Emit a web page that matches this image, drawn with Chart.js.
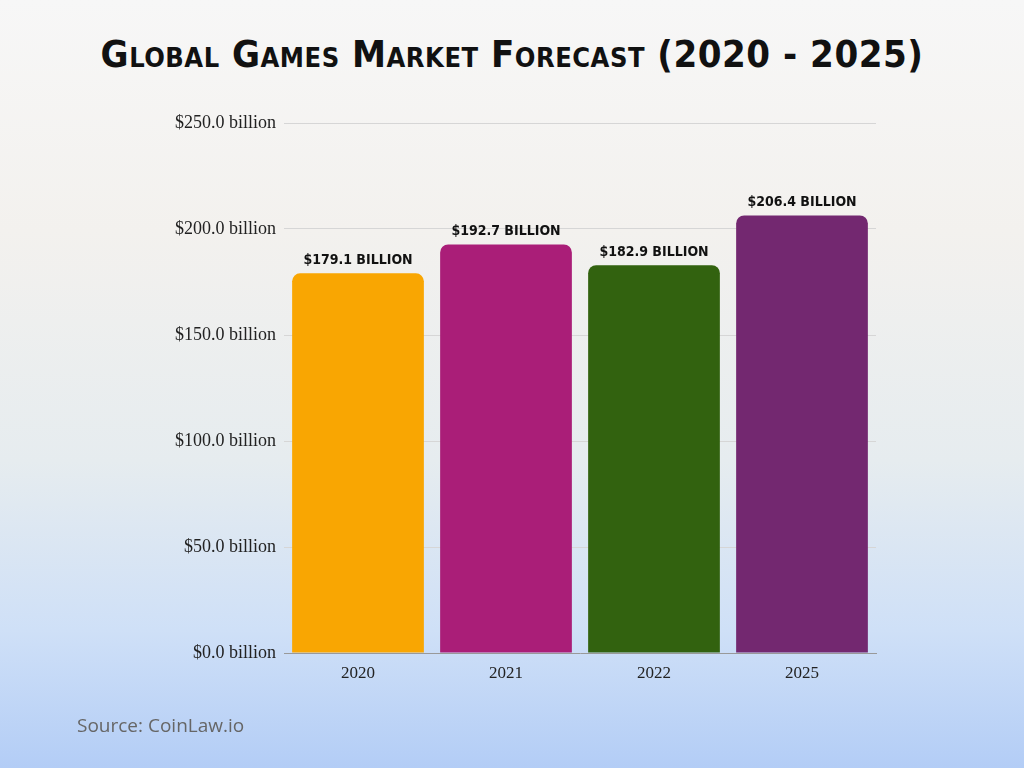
<!DOCTYPE html>
<html><head><meta charset="utf-8">
<script src="https://cdn.jsdelivr.net/npm/chart.js@4"></script>
<style>
html,body{margin:0;padding:0}
body{width:1024px;height:768px;position:relative;overflow:hidden;
background:linear-gradient(180deg,#f7f7f7 0%,#f3f1ee 30%,#e6ecef 60%,#cfe0f7 82%,#b3cdf6 100%)}
#title{position:absolute;top:32px;left:0;width:1024px;text-align:center;
font-family:"DejaVu Sans Condensed","Liberation Sans Narrow",sans-serif;font-weight:bold;font-size:38px;font-variant:small-caps;color:#111;letter-spacing:0.5px}
#src{position:absolute;left:77px;top:712px;font-family:"Open Sans",sans-serif;font-size:19px;color:#666}
canvas{position:absolute;left:0;top:0}
</style></head><body>
<div id="title">Global Games Market Forecast (2020 - 2025)</div>
<canvas id="c" width="1024" height="768"></canvas>
<div id="src">Source: CoinLaw.io</div>
<script>
const years = ['2020', '2021', '2022', '2025'];
const revenue = [179.1, 192.7, 182.9, 206.4];
const barColors = ['#f9a602', '#aa1e78', '#32620f', '#732870'];

// labels above each bar
const valueLabels = {
  id: 'valueLabels',
  afterDatasetsDraw(chart) {
    const ctx = chart.ctx;
    ctx.save();
    ctx.font = 'bold 14px "DejaVu Sans Condensed",sans-serif';
    ctx.fillStyle = '#111';
    ctx.textAlign = 'center';
    ctx.textBaseline = 'bottom';
    chart.getDatasetMeta(0).data.forEach((bar, i) => {
      ctx.fillText('$' + revenue[i].toFixed(1) + ' BILLION', bar.x, bar.y - 6);
    });
    ctx.restore();
  }
};

new Chart(document.getElementById('c'), {
  type: 'bar',
  data: {
    labels: years,
    datasets: [{ data: revenue, backgroundColor: barColors, borderRadius: 8, borderSkipped: 'bottom' }]
  },
  options: {
    responsive: false,
    animation: false,
    layout: { padding: { top: 123, right: 148, bottom: 75, left: 0 } },
    plugins: { legend: { display: false }, tooltip: { enabled: false } },
    datasets: { bar: { categoryPercentage: 1, barPercentage: 0.89 } },
    scales: {
      x: {
        afterFit: s => { s.height = 40; },
        grid: { display: false },
        border: { color: '#999' },
        ticks: { padding: 2, color: '#222', font: { family: 'Liberation Serif', size: 17 } }
      },
      y: {
        min: 0, max: 250,
        afterFit: s => { s.width = 284; },
        grid: { color: '#d6d6d6', drawTicks: false },
        border: { display: false },
        ticks: {
          stepSize: 50, padding: 8, color: '#222',
          font: { family: 'Liberation Serif', size: 18 },
          callback: v => '$' + v.toFixed(1) + ' billion'
        }
      }
    }
  },
  plugins: [valueLabels]
});
</script>
</body></html>
